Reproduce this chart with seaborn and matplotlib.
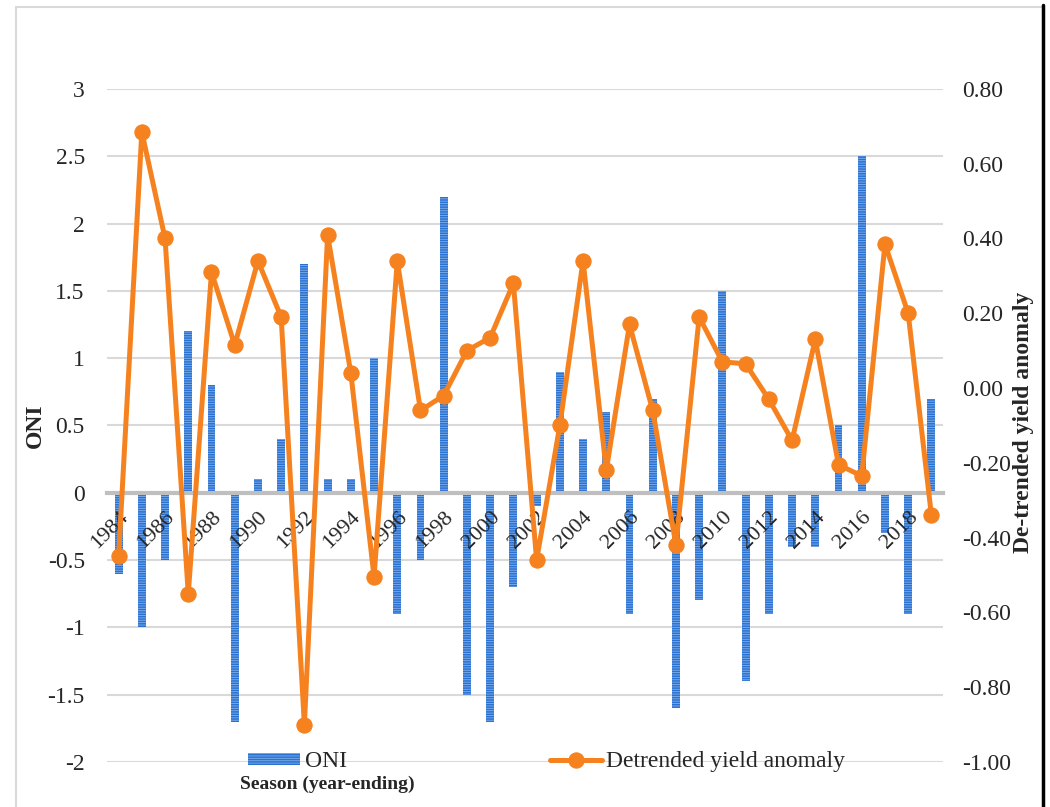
import numpy as np
import matplotlib
matplotlib.use('Agg')
import matplotlib.pyplot as plt
from matplotlib.patches import Rectangle
from matplotlib.lines import Line2D
import seaborn as sns

# Data
years = list(range(1984, 2020))
oni = [-0.6, -1.0, -0.5, 1.2, 0.8, -1.7, 0.1, 0.4, 1.7, 0.1, 0.1, 1.0,
       -0.9, -0.5, 2.2, -1.5, -1.7, -0.7, -0.1, 0.9, 0.4, 0.6, -0.9, 0.7,
       -1.6, -0.8, 1.5, -1.4, -0.9, -0.4, -0.4, 0.5, 2.5, -0.3, -0.9, 0.7]
yield_anomaly = [-0.45, 0.685, 0.40, -0.55, 0.31, 0.115, 0.34, 0.19, -0.90, 0.41,
                 0.04, -0.505, 0.34, -0.06, -0.02, 0.10, 0.135, 0.28, -0.46, -0.10,
                 0.34, -0.22, 0.17, -0.06, -0.42, 0.19, 0.07, 0.065, -0.03, -0.14,
                 0.13, -0.205, -0.235, 0.385, 0.20, -0.34]
oni_ticks = [-2, -1.5, -1, -0.5, 0, 0.5, 1, 1.5, 2, 2.5, 3]
yield_ticks = [-1.0, -0.8, -0.6, -0.4, -0.2, 0.0, 0.2, 0.4, 0.6, 0.8]

bar_blue = '#2b72d0'
stripe = '#7fb0ee'
orange = '#f5821f'

sns.set_style('white')
plt.rcParams['font.family'] = ['Liberation Serif', 'DejaVu Serif']
plt.rcParams['hatch.linewidth'] = 0.6

fig = plt.figure(figsize=(10.5, 8.07), dpi=100)
ax = fig.add_axes([0.1019, 0.0558, 0.7962, 0.834])
ax2 = ax.twinx()

# ONI bars
year_labels = [str(y) for y in years]
sns.barplot(x=year_labels, y=oni, ax=ax, color=bar_blue, saturation=1,
            width=0.34, label='ONI')
for p in ax.patches:
    p.set_hatch('-------')
    p.set_edgecolor(stripe)
    p.set_linewidth(0)
if ax.get_legend() is not None:
    ax.get_legend().remove()

ax.set_xlim(-0.5, len(years) - 0.5)
ax.set_ylim(-2, 3)
ax.set_yticks(oni_ticks)
ax.set_yticklabels([f'{v:g}' for v in oni_ticks])
# gridlines kept below the bars, tick labels above them
ax.grid(False)
for v in oni_ticks:
    if v != 0:
        ax.axhline(v, color='#d9d9d9', lw=1.5, zorder=0.5)
for s in ['top', 'right', 'left']:
    ax.spines[s].set_visible(False)
ax.spines['bottom'].set_position(('data', 0))
ax.spines['bottom'].set_color('#bfbfbf')
ax.spines['bottom'].set_linewidth(3)
ax.spines['bottom'].set_zorder(3)

ax.set_xticks(range(0, len(years), 2))
ax.set_xticklabels(year_labels[::2])
ax.tick_params(axis='x', length=0, pad=11, labelsize=16)
for lbl in ax.get_xticklabels():
    lbl.set_rotation(45)
    lbl.set_ha('right')
    lbl.set_va('top')
    lbl.set_rotation_mode('anchor')
ax.tick_params(axis='y', length=0, pad=16, labelsize=17)
ax.xaxis.set_zorder(4)

# Detrended yield anomaly line
sns.lineplot(x=np.arange(len(years)), y=yield_anomaly, ax=ax2, color=orange,
             linewidth=3.6, marker='o', markersize=11, markeredgecolor=orange,
             label='Detrended yield anomaly')
ax2.set_ylim(-1.0, 0.8)
ax2.set_yticks(yield_ticks)
ax2.set_yticklabels([f'{round(v, 2) + 0.0:.2f}' for v in yield_ticks])
ax2.tick_params(axis='y', length=0, pad=14, labelsize=17)
ax2.grid(False)
for s in ax2.spines.values():
    s.set_visible(False)

# Legend
h1, l1 = ax.get_legend_handles_labels()
h2, l2 = ax2.get_legend_handles_labels()
ax2.legend(h1 + h2, l1 + l2, loc='center', bbox_to_anchor=(0.526, 0.0),
           ncol=2, frameon=False, fontsize=17, handlelength=2.2,
           handletextpad=0.2, columnspacing=8.6, handleheight=0.4)

# Axis titles
ax.set_ylabel('ONI', fontweight='bold', fontsize=17)
ax.yaxis.set_label_coords(-0.073, 0.5)
ax2.set_ylabel('De-trended yield anomaly', fontweight='bold', fontsize=17)
ax2.yaxis.set_label_coords(1.0837, 0.504)
ax.set_xlabel('Season (year-ending)', fontweight='bold', fontsize=14)
ax.xaxis.set_label_coords(0.264, -0.02)

# Chart frame
fig.patches.append(Rectangle((16 / 1050, -0.1), (1043 - 16) / 1050, 1.1 - 7 / 807,
                             transform=fig.transFigure, fill=False,
                             edgecolor='#d9d9d9', lw=1.5))
fig.add_artist(Line2D([1043 / 1050] * 2, [0, 1 - 5 / 807], color='black', lw=2.5))

fig.savefig('out.png', dpi=100)
